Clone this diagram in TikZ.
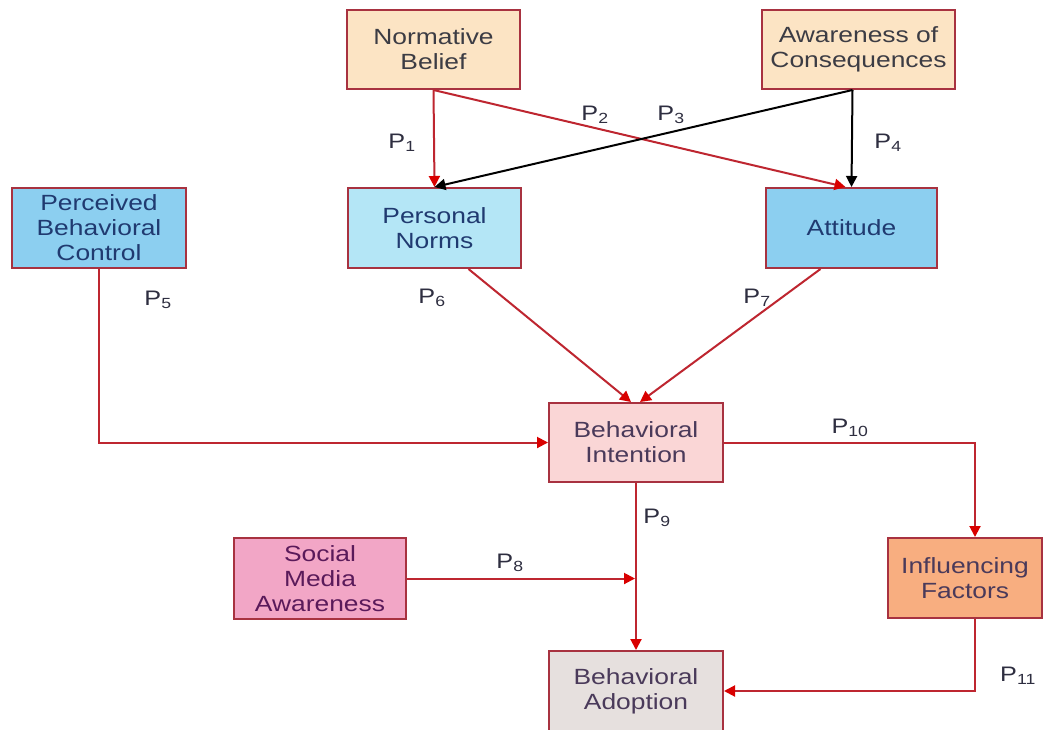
\documentclass[tikz,border=0pt]{standalone}
\usepackage{fontspec}
\setmainfont[FakeStretch=1.2]{Liberation Sans}
\usetikzlibrary{arrows.meta,calc}
\definecolor{bord}{HTML}{A83240}
\definecolor{lnred}{HTML}{BE2630}
\definecolor{peach}{HTML}{FCE4C4}
\definecolor{bluebox}{HTML}{8CCFF0}
\definecolor{lightblue}{HTML}{B4E6F6}
\definecolor{pinklight}{HTML}{FAD6D6}
\definecolor{pinkbox}{HTML}{F2A6C6}
\definecolor{orangebox}{HTML}{F8AE80}
\definecolor{graybox}{HTML}{E6E0DE}
\definecolor{txtgray}{HTML}{3C3C44}
\definecolor{txtblue}{HTML}{203A70}
\definecolor{txtpurple}{HTML}{4A3A5A}
\definecolor{txtmag}{HTML}{5A1A5A}
\definecolor{lbl}{HTML}{2E2E40}
\begin{document}
\begin{tikzpicture}[x=1pt,y=-1pt,
  box/.style={draw=bord,line width=2pt,align=center,inner sep=0pt,
    font=\fontsize{22}{25}\selectfont},
  redarrow/.style={draw=lnred,line width=2pt,-{Triangle[length=11pt,width=11pt,color=red!85!black]}},
  blackarrow/.style={draw=black,line width=2pt,-{Triangle[length=11pt,width=11pt]}},
  lab/.style={text=lbl,font=\fontsize{21}{24}\selectfont,inner sep=0pt}]
\useasboundingbox[fill=white] (0,0) rectangle (1049,729);

\node[box,fill=peach,text=txtgray,minimum width=173pt,minimum height=79pt] (nb) at (433.5,49.5) {Normative\\Belief};
\node[box,fill=peach,text=txtgray,minimum width=193pt,minimum height=79pt] (aoc) at (858.5,49.5) {Awareness of\\Consequences};
\node[box,fill=bluebox,text=txtblue,minimum width=174pt,minimum height=80pt] (pbc) at (99,228) {Perceived\\Behavioral\\Control};
\node[box,fill=lightblue,text=txtblue,minimum width=173pt,minimum height=80pt] (pn) at (434.5,228) {Personal\\Norms};
\node[box,fill=bluebox,text=txtblue,minimum width=171pt,minimum height=80pt] (att) at (851.5,228) {Attitude};
\node[box,fill=pinklight,text=txtpurple,minimum width=174pt,minimum height=79pt] (bi) at (636,442.5) {Behavioral\\Intention};
\node[box,fill=pinkbox,text=txtmag,minimum width=172pt,minimum height=81pt] (sma) at (320,578.5) {Social\\Media\\Awareness};
\node[box,fill=orangebox,text=txtpurple,minimum width=154pt,minimum height=80pt] (ifac) at (965,578) {Influencing\\Factors};
\node[box,fill=graybox,text=txtpurple,minimum width=174pt,minimum height=80pt] (ba) at (636,691) {Behavioral\\Adoption};

% top arrows
\coordinate (aocs) at ($(aoc.south)+(-6,0)$);
\draw[redarrow] (nb.south) -- (pn.north);
\draw[redarrow] (nb.south) -- ($(att.north)+(-6,0)$);
\draw[blackarrow] (aocs) -- (pn.north);
\draw[blackarrow] (aocs) -- (att.north);

% middle
\draw[redarrow] (pbc.south) |- (bi.west);
\draw[redarrow] ($(pn.south)+(34,0)$) -- ($(bi.north)+(-5,0)$);
\draw[redarrow] ($(att.south)+(-31,0)$) -- ($(bi.north)+(4,0)$);
\draw[redarrow] (bi.east) -| ($(ifac.north)+(10,0)$);
\draw[redarrow] (bi.south) -- (ba.north);
\coordinate (m8) at (bi.south |- sma.east);
\draw[redarrow,shorten >=1pt] (sma.east) -- (m8);
\draw[redarrow] ($(ifac.south)+(10,0)$) |- (ba.east);

% labels
\node[lab] (l1) at (402,143) {P\textsubscript{1}};
\node[lab] (l2) at (595,115) {P\textsubscript{2}};
\node[lab] (l3) at (671,115) {P\textsubscript{3}};
\node[lab] (l4) at (888,143) {P\textsubscript{4}};
\node[lab] (l5) at (158,300) {P\textsubscript{5}};
\node[lab] (l6) at (432,298) {P\textsubscript{6}};
\node[lab] (l7) at (757,298) {P\textsubscript{7}};
\node[lab] (l8) at (510,563) {P\textsubscript{8}};
\node[lab] (l9) at (657,518) {P\textsubscript{9}};
\node[lab] (l10) at (850,428) {P\textsubscript{10}};
\node[lab] (l11) at (1018,676) {P\textsubscript{11}};
\end{tikzpicture}
\end{document}
